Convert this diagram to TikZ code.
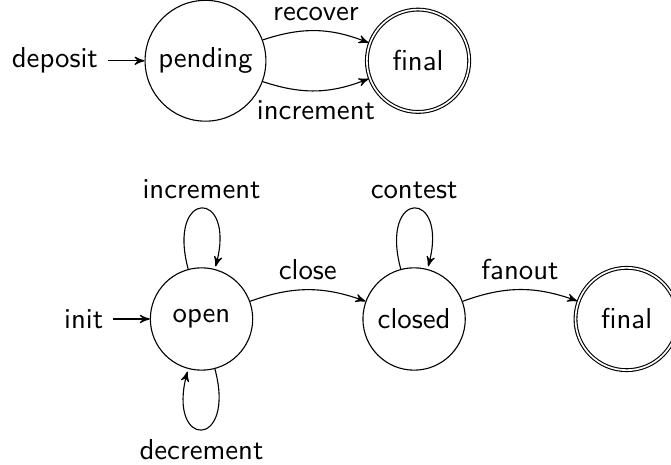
\documentclass[tikz,border=0pt]{standalone}
\usepackage{tikz}
\usetikzlibrary{automata, positioning, arrows}
\renewcommand{\familydefault}{\sfdefault}
\tikzset{->,
         >=stealth',
         node distance=2.7cm,
         every node/.style={font=\fontsize{10.4}{12.5}\selectfont},
         every state/.style={minimum size=1.3cm},
         }

\begin{document}
\begin{tikzpicture}
    \useasboundingbox (-2.56,-1.854) rectangle (5.963,4.052);

    \node[state, initial, initial text=deposit] (pend) at (0.05,3.28) {pending};
    \node[state, accepting, right of=pend] (fin1) {final};

    \node[state, initial, initial text=init] (open) {open};
    \node[state, right of=open] (closed) {closed};
    \node[state, accepting, right of=closed] (fin2) {final};

    \draw   (pend) edge[above, bend left=20] node{recover} (fin1)
            (pend) edge[below, bend right=20] node{increment} (fin1);

    \draw   (open) edge[loop above] node{increment} (open)
            (open) edge[loop below] node{decrement} (open)
            (open) edge[above, bend left=20] node{close} (closed)
            (closed) edge[loop above] node{contest} (closed)
            (closed) edge[above, bend left=20] node{fanout} (fin2);
\end{tikzpicture}
\end{document}
